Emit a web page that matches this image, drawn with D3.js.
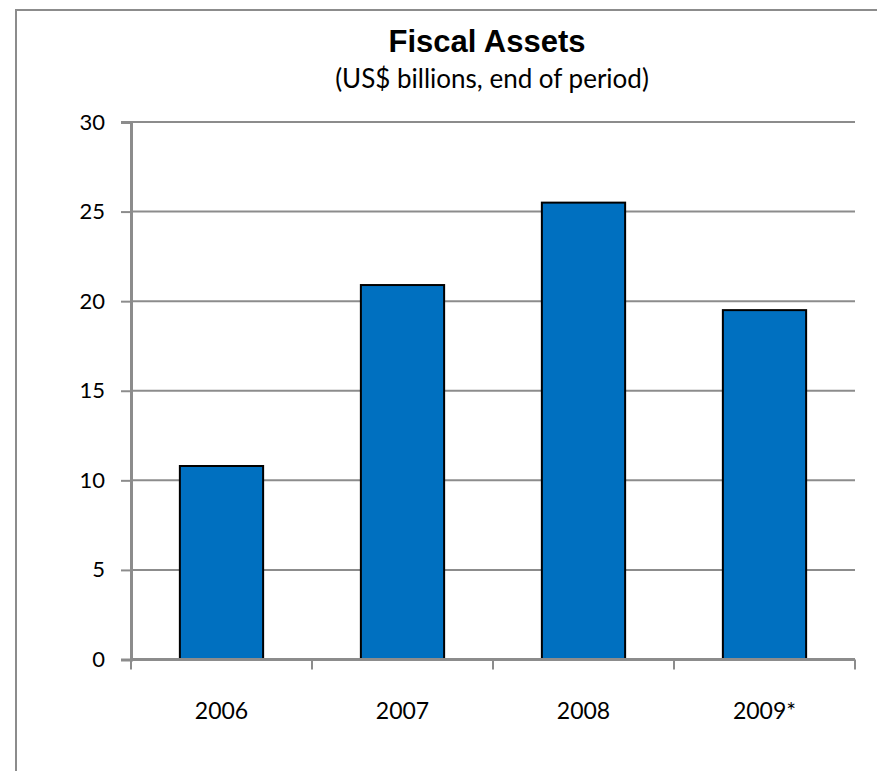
<!DOCTYPE html>
<html>
<head>
<meta charset="utf-8">
<script src="https://cdn.jsdelivr.net/npm/d3@7"></script>
<style>
  html, body { margin: 0; padding: 0; background: #fff; }
  svg { display: block; }
</style>
</head>
<body>
<svg id="chart" width="877" height="771"></svg>
<script>
// Fiscal assets, US$ billions, end of period
const categories = ["2006", "2007", "2008", "2009*"];
const values = [10.8, 20.9, 25.5, 19.5];
const yTicks = [0, 5, 10, 15, 20, 25, 30];

const svg = d3.select("#chart");
const W = 877, H = 771;
const margin = { left: 131, right: W - 855, top: 122, bottom: H - 659.5 };
const labelFont = "Lato, 'Open Sans', sans-serif";

// outer chart frame (top and left edges visible)
svg.append("path")
  .attr("d", `M16,${H} L16,10 L${W},10`)
  .attr("fill", "none")
  .attr("stroke", "#8c8c8c")
  .attr("stroke-width", 2);

// titles
svg.append("text")
  .attr("x", 487).attr("y", 52)
  .attr("text-anchor", "middle")
  .style("font-family", "'Liberation Sans', Arial, sans-serif")
  .style("font-weight", "bold")
  .style("font-size", "31px")
  .text("Fiscal Assets");
svg.append("text")
  .attr("x", 492).attr("y", 88)
  .attr("text-anchor", "middle")
  .style("font-family", labelFont)
  .style("font-size", "26px")
  .text("(US$ billions, end of period)");

const x = d3.scaleBand()
  .domain(categories)
  .range([margin.left, W - margin.right])
  .paddingInner(0.54)
  .paddingOuter(0.27);

const y = d3.scaleLinear()
  .domain([0, 30])
  .range([H - margin.bottom, margin.top]);

const gray = "#8c8c8c";

// horizontal gridlines
svg.append("g")
  .selectAll("line")
  .data(yTicks.filter(d => d > 0))
  .join("line")
  .attr("x1", margin.left)
  .attr("x2", W - margin.right)
  .attr("y1", d => y(d))
  .attr("y2", d => y(d))
  .attr("stroke", gray)
  .attr("stroke-width", 2);

// bars
svg.append("g")
  .selectAll("rect")
  .data(values)
  .join("rect")
  .attr("x", (d, i) => x(categories[i]))
  .attr("width", x.bandwidth())
  .attr("y", d => y(d))
  .attr("height", d => y(0) - y(d))
  .attr("fill", "#0070C0")
  .attr("stroke", "#000")
  .attr("stroke-width", 2);

// y axis
const yAxis = svg.append("g")
  .attr("transform", `translate(${margin.left},0)`)
  .call(d3.axisLeft(y).tickValues(yTicks).tickSize(10).tickPadding(16).tickFormat(d3.format("d")));
yAxis.select(".domain").attr("stroke", gray).attr("stroke-width", 3);
yAxis.selectAll(".tick line").attr("stroke", gray).attr("stroke-width", 2);
yAxis.selectAll(".tick text")
  .style("font-family", labelFont)
  .style("font-size", "22px")
  .attr("fill", "#000");

// x axis: ticks at category boundaries
const boundaries = d3.range(categories.length + 1).map(i => margin.left + i * ((W - margin.right - margin.left) / categories.length));
const xg = svg.append("g");
xg.append("line")
  .attr("x1", margin.left - 1).attr("x2", W - margin.right)
  .attr("y1", y(0)).attr("y2", y(0))
  .attr("stroke", gray).attr("stroke-width", 3);
xg.selectAll("line.tk")
  .data(boundaries)
  .join("line")
  .attr("class", "tk")
  .attr("x1", d => d).attr("x2", d => d)
  .attr("y1", y(0)).attr("y2", y(0) + 10)
  .attr("stroke", gray).attr("stroke-width", 2);
xg.selectAll("text")
  .data(categories)
  .join("text")
  .attr("x", d => x(d) + x.bandwidth() / 2)
  .attr("y", 719)
  .attr("text-anchor", "middle")
  .style("font-family", labelFont)
  .style("font-size", "23px")
  .text(d => d);
</script>
</body>
</html>
